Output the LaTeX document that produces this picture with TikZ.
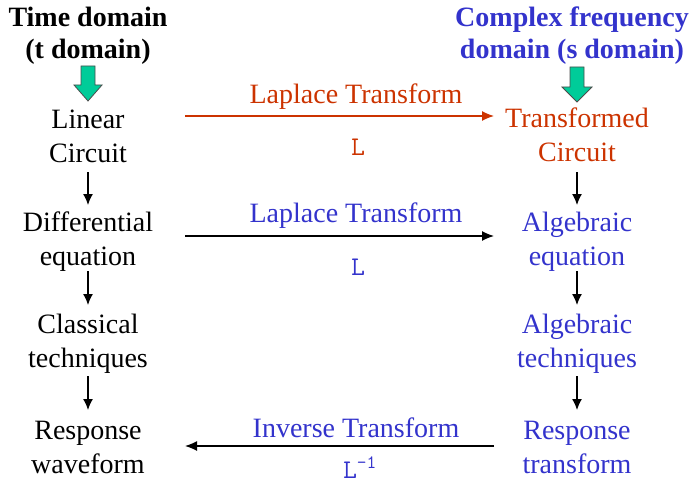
\documentclass[tikz,border=0pt]{standalone}
\usepackage{fontspec}
\setmainfont{Liberation Serif}
\usetikzlibrary{arrows.meta}
\definecolor{lapred}{RGB}{204,51,0}
\definecolor{sblue}{RGB}{51,51,204}
\definecolor{dgreen}{RGB}{0,204,153}
\tikzset{
  lbl/.style={font=\fontsize{28}{34}\selectfont, align=center, inner sep=0pt},
  ttl/.style={font=\fontsize{28}{32}\selectfont\bfseries, align=center, inner sep=0pt},
  mono/.style={font=\fontsize{27}{30}\selectfont\ttfamily, inner sep=0pt},
  flow/.style={-{Latex[length=11pt,width=10pt]}, line width=1.3pt},
  hflow/.style={-{Latex[length=12pt,width=10pt]}, line width=1.3pt},
  bigarrow/.style={fill=dgreen, draw=black!70, line width=0.8pt},
}
\begin{document}
\begin{tikzpicture}[x=1pt,y=-1pt]
\useasboundingbox (0,0) rectangle (693,484);

% column titles
\node[ttl] (tdom) at (88,36) {Time domain\\(t domain)};
\node[ttl, text=sblue] (sdom) at (572,36) {Complex frequency\\domain (s domain)};

% green pointer arrows under the titles
\draw[bigarrow] (81,66) -- (95,66) -- (95,85) -- (102,85) -- (88,101) -- (74,85) -- (81,85) -- cycle;
\draw[bigarrow] (570,67) -- (584,67) -- (584,87) -- (592,87) -- (577,102) -- (562,87) -- (570,87) -- cycle;

% time-domain column
\node[lbl] (lin) at (88,136) {Linear\\Circuit};
\node[lbl] (deq) at (88,242) {Differential\\equation};
\node[lbl] (ctech) at (88,344) {Classical\\techniques};
\node[lbl] (resp) at (88,447) {Response\\waveform};

% s-domain column
\node[lbl, text=lapred] (tc) at (577,135) {Transformed\\Circuit};
\node[lbl, text=sblue] (aeq) at (577,242) {Algebraic\\equation};
\node[lbl, text=sblue] (atech) at (577,344) {Algebraic\\techniques};
\node[lbl, text=sblue] (rtr) at (577,447) {Response\\transform};

% vertical steps
\coordinate (l1a) at (88,172); \coordinate (l1b) at (88,205);
\coordinate (l2a) at (88,271); \coordinate (l2b) at (88,305);
\coordinate (l3a) at (88,376); \coordinate (l3b) at (88,410);
\coordinate (r1a) at (577,172); \coordinate (r1b) at (577,205);
\coordinate (r2a) at (577,271); \coordinate (r2b) at (577,305);
\coordinate (r3a) at (577,376); \coordinate (r3b) at (577,410);
\draw[flow] (l1a) -- (l1b);
\draw[flow] (l2a) -- (l2b);
\draw[flow] (l3a) -- (l3b);
\draw[flow] (r1a) -- (r1b);
\draw[flow] (r2a) -- (r2b);
\draw[flow] (r3a) -- (r3b);

% transforms between the domains
\coordinate (h1a) at (185,116); \coordinate (h1b) at (494,116);
\coordinate (h2a) at (185,236); \coordinate (h2b) at (494,236);
\coordinate (h3a) at (494,446); \coordinate (h3b) at (185,446);
\draw[hflow, draw=lapred, color=lapred] (h1a) -- (h1b);
\draw[hflow] (h2a) -- (h2b);
\draw[hflow] (h3a) -- (h3b);

\node[lbl, text=lapred] (t1) at (356,97) {Laplace Transform};
\node[mono, text=lapred] (L1) at (358,147) {L};
\node[lbl, text=sblue] (t2) at (356,216) {Laplace Transform};
\node[mono, text=sblue] (L2) at (358,267) {L};
\node[lbl, text=sblue] (t3) at (356,428) {Inverse Transform};
\node[mono, text=sblue, anchor=base] (L3) at (360,478) {L\textsuperscript{-1}};
\end{tikzpicture}
\end{document}
